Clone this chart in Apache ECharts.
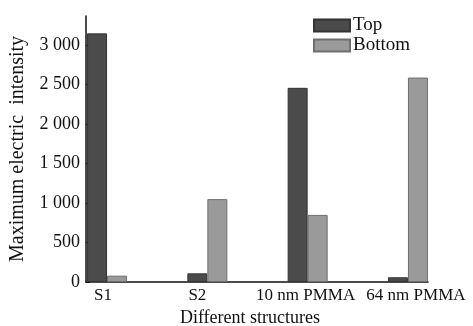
<!DOCTYPE html>
<html>
<head>
<meta charset="utf-8">
<script src="https://cdn.jsdelivr.net/npm/echarts@6/dist/echarts.min.js"></script>
<style>
  html, body { margin: 0; padding: 0; background: #fff; }
  #chart { width: 473px; height: 326px; }
</style>
</head>
<body>
<div id="chart"></div>
<script>
// structures on the x axis, bars are placed at the category index
let structures = ['S1', 'S2', '10 nm PMMA', '64 nm PMMA'];
let topValues    = [3150, 110, 2460, 60];
let bottomValues = [80, 1050, 850, 2590];
let yTicks = [0, 500, 1000, 1500, 2000, 2500, 3000];

let serif = 'Liberation Serif';

function pairs(values){
    let out = [];
    for(let i = 0; i < values.length; i++){
        out.push([i, values[i]]);
    }
    return out;
}

function thousands(v){
    // "3 000" style labels
    if(v >= 1000){
        let s = String(v);
        return s.slice(0, s.length - 3) + ' ' + s.slice(s.length - 3);
    }
    return String(v);
}

// labels in the original sit a little off the bar pairs
let labelStyles = ['l0', 'l1', 'l2', 'l3'];
let labelRich = {
    l0: { padding: [0, 8, 0, 0] },
    l1: { padding: [0, 20, 0, 0] },
    l2: { padding: [0, 4, 0, 0] },
    l3: { padding: [0, 0, 0, 16] }
};

let chart = echarts.init(document.getElementById('chart'));

let options = {
    backgroundColor: '#fff',
    animation: false,
    grid: { left: 86, right: 45, top: 16, bottom: 44, outerBoundsMode: 'none' },
    legend: {
        orient: 'vertical',
        left: 311,
        top: 14,
        itemWidth: 36,
        itemHeight: 12,
        itemGap: 1,
        icon: 'rect',
        backgroundColor: '#fff',
        padding: 2,
        textStyle: { fontFamily: serif, fontSize: 19, color: '#111', padding: [0, 0, 0, -2] },
        data: ['Top', 'Bottom']
    },
    xAxis: {
        type: 'value',
        min: -0.21,
        max: 3.2,
        name: 'Different structures',
        nameLocation: 'middle',
        nameGap: 27,
        nameTextStyle: { fontFamily: serif, fontSize: 18, color: '#111', padding: [0, 14, 0, 0] },
        axisLine: { onZero: false, lineStyle: { color: '#111', width: 1.5 } },
        axisTick: { show: false },
        splitLine: { show: false },
        axisLabel: {
            customValues: [0, 1, 2, 3],
            fontFamily: serif,
            fontSize: 17,
            color: '#111',
            margin: 5,
            rich: labelRich,
            formatter: function(v){
                let i = Math.round(v);
                return '{' + labelStyles[i] + '|' + structures[i] + '}';
            }
        }
    },
    yAxis: {
        type: 'value',
        min: 0,
        max: 3370,
        interval: 500,
        name: 'Maximum electric  intensity',
        nameLocation: 'middle',
        nameGap: 58,
        nameTextStyle: { fontFamily: serif, fontSize: 20, color: '#111' },
        axisLine: { show: true, onZero: false, lineStyle: { color: '#111', width: 1.5 } },
        axisTick: { show: true, inside: true, length: 4, lineStyle: { color: '#111' } },
        splitLine: { show: false },
        axisLabel: {
            fontFamily: serif,
            fontSize: 18,
            color: '#111',
            margin: 6,
            showMaxLabel: false,
            formatter: function(v){ return yTicks.indexOf(v) >= 0 ? thousands(v) : ''; }
        }
    },
    series: [
        {
            name: 'Top',
            type: 'bar',
            barWidth: 20,
            barGap: '0%',
            itemStyle: { color: '#4b4b4b', borderColor: '#333', borderWidth: 1 },
            data: pairs(topValues)
        },
        {
            name: 'Bottom',
            type: 'bar',
            barWidth: 20,
            barGap: '0%',
            itemStyle: { color: '#9a9a9a', borderColor: '#6e6e6e', borderWidth: 1 },
            data: pairs(bottomValues)
        }
    ]
};

chart.setOption(options);
</script>
</body>
</html>
